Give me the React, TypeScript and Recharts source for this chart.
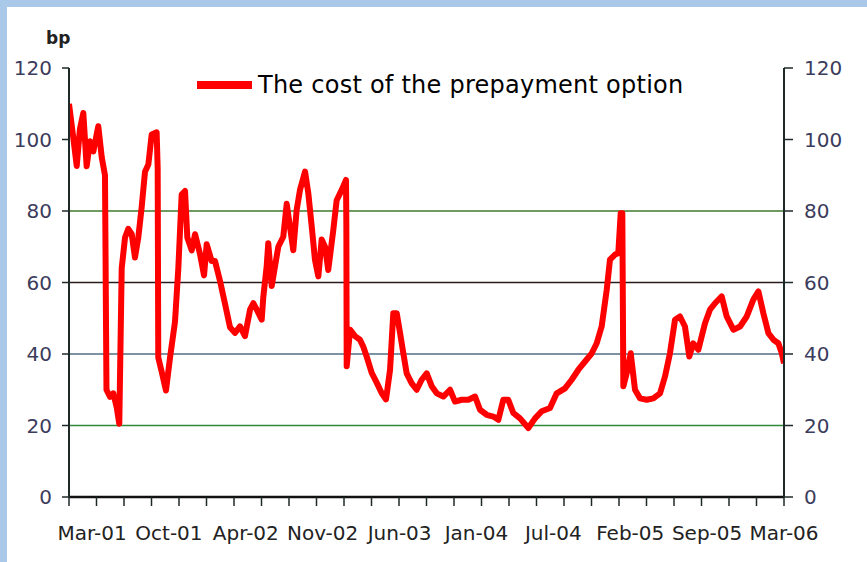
import React from 'react'
import { LineChart, Line, XAxis, YAxis, ReferenceLine } from 'recharts'

// months since Jan-01 and the cost in bp
const MONTHS = [
  0, 0.37, 0.67, 0.95, 1.24, 1.53, 1.82, 2.11, 2.54, 2.84, 3.12, 3.25, 3.56, 3.84, 4.14, 4.36,
  4.57, 4.86, 5.14, 5.44, 5.72, 6.01, 6.3, 6.59, 6.88, 7.17, 7.6, 7.69, 7.74, 8.04, 8.41, 8.76,
  9.19, 9.48, 9.77, 10.06, 10.26, 10.64, 10.93, 11.36, 11.71, 11.94, 12.37, 12.66, 13.09, 13.53,
  13.96, 14.39, 14.83, 15.26, 15.7, 15.98, 16.28, 16.71, 16.85, 17.14, 17.28, 17.58, 17.86, 18.15,
  18.58, 18.88, 19.16, 19.45, 19.74, 20.03, 20.47, 20.75, 21.05, 21.33, 21.62, 21.91, 22.2, 22.48,
  22.92, 23.21, 23.65, 24.02, 24.05, 24.08, 24.37, 24.8, 25.23, 25.52, 25.81, 26.25, 26.68, 27.12,
  27.49, 27.84, 28.12, 28.42, 28.7, 28.99, 29.28, 29.72, 30.15, 30.58, 31.02, 31.45, 31.89, 32.46,
  33.04, 33.47, 34.05, 34.63, 35.21, 35.64, 36.22, 36.79, 37.23, 37.66, 38.09, 38.53, 39.11, 39.83,
  40.41, 40.99, 41.71, 42.29, 43.01, 43.59, 44.17, 44.75, 45.33, 45.76, 46.19, 46.63, 46.91, 47.35,
  47.63, 47.84, 47.98, 48.07, 48.36, 48.71, 49.08, 49.51, 50.09, 50.67, 51.25, 51.68, 52.11, 52.55,
  52.98, 53.41, 53.79, 54.13, 54.57, 55.15, 55.58, 56.02, 56.6, 57.03, 57.61, 58.19, 58.77, 59.34,
  59.78, 60.21, 60.65, 61.08, 61.51, 61.81, 62,
]

const COST = [
  110, 100.5, 92.6, 103, 107.4, 92.5, 99.5, 96.7, 103.7, 95, 90, 30, 28, 29, 25, 20.5,
  64, 72.6, 75, 73.5, 67, 72.6, 81, 91, 93, 101.4, 102, 92, 39, 35, 29.8, 39,
  49, 64, 84.6, 85.6, 72.6, 69, 73.5, 68, 62, 70.7, 66, 66, 60.5, 54,
  47.5, 45.9, 47.7, 45, 52.4, 54.2, 52.4, 49.6, 56, 64.5, 71, 59, 64.5, 70,
  72.8, 82, 75.6, 69, 80.3, 85.9, 91, 85, 75.6, 66.3, 61.7, 72, 70, 63.5,
  74.7, 83, 85.9, 88.7, 76, 36.6, 46.8, 45, 44, 42, 39.3, 34.7, 32, 29,
  27.3, 35.6, 51.4, 51.4, 46, 40.2, 34.6, 31.8, 30, 32.8, 34.6, 31, 29, 28.1,
  30, 26.7, 27.2, 27.2, 28.1, 24.4, 23, 22.5, 21.6, 27.2, 27.2, 23.5, 22, 19.3,
  22, 24, 24.9, 29, 30.4, 32.8, 35.6, 37.9, 40.2, 43, 47.7, 58, 66.4, 67.8,
  68.2, 79.4, 79.4, 31, 34.6, 40.2, 30, 27.6, 27.2, 27.6, 29, 33.7, 40.2, 49.6,
  50.5, 47.7, 39.3, 43, 41.2, 48.6, 52.4, 54.2, 56.1, 50.5, 46.8, 47.7, 50.5, 55.2,
  57.5, 51.4, 45.8, 44, 43, 40.2, 37.4,
]

const DATE_LABELS = ['Mar-01', 'Oct-01', 'Apr-02', 'Nov-02', 'Jun-03', 'Jan-04', 'Jul-04', 'Feb-05', 'Sep-05', 'Mar-06']
const Y_TICKS = [0, 20, 40, 60, 80, 100, 120]
const GRID_VALUES = [20, 40, 60, 80]
const GRID_COLORS = ['#2f8a3a', '#4f6f84', '#2a1c1c', '#3f7a2c']

const data = MONTHS.map((t, i) => ({ t, cost: COST[i] }))

// labels sit every 60/9 months from Mar-01, minor ticks split the axis in 26
const labelTicks = DATE_LABELS.map((_, i) => 2 + (i * 60) / 9)
const minorTicks = Array.from({ length: 27 }, (_, i) => (i * 62) / 26)

const FONT = '"DejaVu Sans", Verdana, sans-serif'
const AXIS = '#1e2a28'

const NoLabel = () => <g />

export default function App() {
  return (
    <div style={{ position: 'absolute', left: 0, top: 0, width: 867, height: 562, background: '#aac9e9' }}>
      <div style={{ position: 'absolute', left: 7, top: 7, right: 0, bottom: 0, background: '#fff' }} />
      <div style={{ position: 'absolute', left: 0, top: 0 }}>
        <LineChart width={867} height={562} data={data} margin={{ top: 68, right: 23, bottom: 25, left: 9 }}>
          {/* minor tick marks, nearest to the plot */}
          <XAxis
            xAxisId={0}
            dataKey="t"
            type="number"
            domain={[0, 62]}
            ticks={minorTicks}
            tick={NoLabel}
            interval={0}
            height={9}
            tickSize={9}
            tickLine={{ stroke: AXIS, strokeWidth: 1.5 }}
            axisLine={{ stroke: '#111', strokeWidth: 2.5 }}
            allowDataOverflow
          />
          {/* date labels below */}
          <XAxis
            xAxisId={1}
            dataKey="t"
            type="number"
            domain={[0, 62]}
            ticks={labelTicks}
            tickFormatter={(v, i) => DATE_LABELS[i]}
            interval={0}
            height={31}
            tickSize={0}
            tickMargin={20}
            tickLine={false}
            axisLine={false}
            tick={{ fill: '#222', fontSize: 20, fontFamily: FONT }}
            allowDataOverflow
          />
          <YAxis
            yAxisId="left"
            domain={[0, 120]}
            ticks={Y_TICKS}
            width={60}
            tickSize={7}
            tickMargin={10}
            tickLine={{ stroke: AXIS, strokeWidth: 1.5 }}
            axisLine={{ stroke: AXIS, strokeWidth: 2 }}
            tick={{ fill: '#3c3c5c', fontSize: 20, fontFamily: FONT }}
          />
          <YAxis
            yAxisId="right"
            orientation="right"
            domain={[0, 120]}
            ticks={Y_TICKS}
            width={60}
            tickSize={9}
            tickMargin={11}
            tickLine={{ stroke: AXIS, strokeWidth: 1.5 }}
            axisLine={{ stroke: AXIS, strokeWidth: 2 }}
            tick={{ fill: '#3c3c5c', fontSize: 20, fontFamily: FONT, textAnchor: 'start' }}
            allowDataOverflow
          />
          {GRID_VALUES.map((v, i) => (
            <ReferenceLine key={v} y={v} yAxisId="left" xAxisId={0} stroke={GRID_COLORS[i]} strokeWidth={1.5} />
          ))}
          <Line
            xAxisId={0}
            yAxisId="left"
            dataKey="cost"
            type="linear"
            stroke="#ff0000"
            strokeWidth={6}
            strokeLinejoin="round"
            dot={false}
            isAnimationActive={false}
          />
        </LineChart>
      </div>
      <div style={{ position: 'absolute', left: 46, top: 28, fontFamily: FONT, fontWeight: 'bold', fontSize: 17, color: '#222' }}>
        bp
      </div>
      <div style={{ position: 'absolute', left: 197, top: 71, display: 'flex', alignItems: 'center', fontFamily: FONT, fontSize: 24, letterSpacing: 0.25, color: '#000' }}>
        <span style={{ display: 'inline-block', width: 55, height: 8, background: '#ff0000', marginRight: 6 }} />
        <span>The cost of the prepayment option</span>
      </div>
    </div>
  )
}
